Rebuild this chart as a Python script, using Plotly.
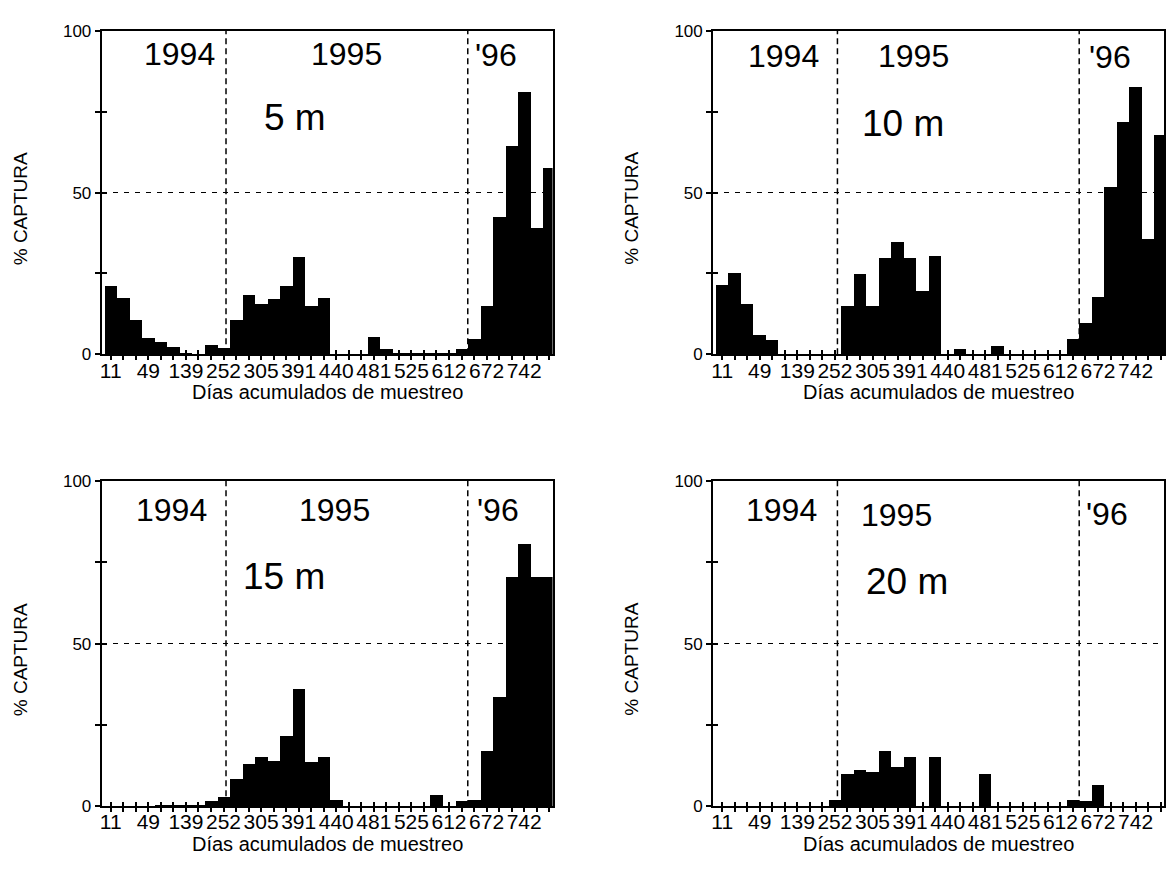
import plotly.graph_objects as go

# ---------------- data ----------------
sample_index = list(range(36))
day_labels = ["11", "49", "139", "252", "305", "391", "440", "481", "525", "612", "672", "742"]
label_step = 3
year_names = ["1994", "1995", "'96"]
year_breaks = [9.2, 28.5]
depths = ["5 m", "10 m", "15 m", "20 m"]

captura_5m = [21, 17.5, 10.5, 5, 3.8, 2.3, 0.4, 0, 2.8, 2,
              10.7, 18.3, 15.5, 17, 21, 30, 15, 17.5, 0, 0,
              0, 5.3, 1.6, 0.5, 0.5, 0.5, 0.5, 0.5, 1.7, 4.8,
              15, 42.5, 64.5, 81, 39, 57.5]
captura_10m = [21.5, 25, 15.5, 6, 4.5, 0, 0, 0, 0, 0,
               14.8, 24.8, 14.8, 29.8, 34.8, 29.8, 19.7, 30.3, 0, 1.6,
               0, 0, 2.6, 0, 0, 0, 0, 0, 4.8, 9.6,
               17.8, 51.6, 72, 82.7, 35.8, 67.8]
captura_15m = [0, 0, 0, 0, 0.5, 0.5, 0.5, 0.5, 1.5, 3,
               8.5, 13, 15, 14, 21.5, 36, 13.5, 15, 2, 0,
               0, 0, 0, 0, 0, 0, 3.5, 0, 1.5, 2,
               17, 33.5, 70.5, 80.5, 70.5, 70.5]
captura_20m = [0, 0, 0, 0, 0, 0, 0, 0, 0, 2,
               10, 11, 10.5, 17, 12, 15, 0, 15, 0, 0,
               0, 10, 0, 0, 0, 0, 0, 0, 2, 1.5,
               6.5, 0, 0, 0, 0, 0]
series = [captura_5m, captura_10m, captura_15m, captura_20m]

y_major = [0, 50, 100]
y_minor = [25, 75]

# ---------------- layout constants ----------------
W, H = 1166, 873
FONT = "Liberation Sans, Arial, sans-serif"
panels = [(100, 552, 22.5, 353), (713, 1165, 22.5, 353),
          (100, 552, 482.5, 815), (713, 1165, 482.5, 815)]
x_range = [-0.72, 35.27]
year_pos = [[(178, 46), (345, 46), (495, 47)],
            [(784, 48), (914, 48), (1111, 49)],
            [(170, 512), (333, 512), (497, 512)],
            [(782, 512), (897, 517), (1108, 516)]]
depth_pos = [(294, 111), (903, 117), (283, 580), (907, 585)]


def fx(p):
    return p / W


def fy(p):
    return 1 - p / H


def sfx(n):
    return "" if n == 1 else str(n)


tick_text = [day_labels[i // label_step] if i % label_step == 0 and i // label_step < len(day_labels) else ""
             for i in sample_index]

fig = go.Figure()
annotations = []
shapes = []
layout = {}

for k, (vals, (x0, x1, y0, y1)) in enumerate(zip(series, panels)):
    i = sfx(k + 1)
    j = sfx(k + 5)
    fig.add_trace(go.Bar(x=sample_index, y=vals, marker=dict(color="black", line=dict(width=0)),
                         xaxis=f"x{i}", yaxis=f"y{i}", showlegend=False))
    # helper trace (draws nothing) so that the overlay axes carrying inner tick marks exist
    fig.add_trace(go.Scatter(x=sample_index, y=vals, mode="none", hoverinfo="skip",
                             xaxis=f"x{j}", yaxis=f"y{j}", showlegend=False))

    layout[f"xaxis{i}"] = dict(
        domain=[fx(x0), fx(x1)], anchor=f"y{i}", range=x_range,
        showline=True, linecolor="black", linewidth=2, mirror=True,
        ticks="outside", ticklen=4, tickwidth=1.5, tickcolor="black",
        tickvals=sample_index, ticktext=tick_text, tickangle=0, ticklabelstandoff=-8,
        tickfont=dict(family=FONT, size=21, color="black"),
        showgrid=False, zeroline=False)
    layout[f"yaxis{i}"] = dict(
        domain=[fy(y1), fy(y0)], anchor=f"x{i}", range=[0, 100],
        showline=True, linecolor="black", linewidth=2, mirror=True,
        ticks="outside", ticklen=5, tickwidth=1.5, tickcolor="black",
        tickvals=y_major, ticktext=[str(v) for v in y_major],
        tickfont=dict(family=FONT, size=17, color="black"),
        minor=dict(ticks="outside", tickvals=y_minor, ticklen=5, tickwidth=1.5, tickcolor="black", showgrid=False),
        showgrid=True, gridcolor="black", gridwidth=1, griddash="5px,6px", zeroline=False)
    layout[f"xaxis{j}"] = dict(
        overlaying=f"x{i}", anchor=f"y{i}", side="bottom", range=x_range,
        showline=False, ticks="inside", ticklen=4, tickwidth=1.5, tickcolor="black",
        tickvals=sample_index, showticklabels=False, showgrid=False, zeroline=False)
    layout[f"yaxis{j}"] = dict(
        overlaying=f"y{i}", anchor=f"x{i}", side="left", range=[0, 100],
        showline=False, ticks="inside", ticklen=5, tickwidth=1.5, tickcolor="black",
        tickvals=y_major + y_minor, showticklabels=False, showgrid=False, zeroline=False)

    for b in year_breaks:
        shapes.append(dict(type="line", xref=f"x{i}", yref=f"y{i} domain", x0=b, x1=b, y0=0, y1=1,
                           line=dict(color="black", width=1.5, dash="6px,4px"), layer="above"))

    for name, (px_, py_) in zip(year_names, year_pos[k]):
        annotations.append(dict(text=name, x=fx(px_), y=fy(py_), xref="paper", yref="paper",
                                xanchor="center", yanchor="middle", showarrow=False,
                                font=dict(family=FONT, size=32, color="black")))
    dx, dy = depth_pos[k]
    annotations.append(dict(text=depths[k], x=fx(dx), y=fy(dy), xref="paper", yref="paper",
                            xanchor="center", yanchor="middle", showarrow=False,
                            font=dict(family=FONT, size=37, color="black")))
    # axis titles
    annotations.append(dict(text="Días acumulados de muestreo", x=fx((x0 + x1) / 2), y=fy(y1 + 39),
                            xref="paper", yref="paper", xanchor="center", yanchor="middle",
                            showarrow=False, font=dict(family=FONT, size=20, color="black")))
    annotations.append(dict(text="% CAPTURA", x=fx(x0 - 82), y=fy((y0 + y1) / 2 + 16),
                            xref="paper", yref="paper", xanchor="center", yanchor="middle",
                            textangle=-90, showarrow=False,
                            font=dict(family=FONT, size=19, color="black")))

fig.update_layout(
    width=W, height=H, margin=dict(l=0, r=0, t=0, b=0),
    paper_bgcolor="white", plot_bgcolor="white",
    bargap=0, showlegend=False,
    annotations=annotations, shapes=shapes, **layout)

fig.write_html("out.html", config={"displayModeBar": False},
               post_script="document.body.style.margin='0';")
